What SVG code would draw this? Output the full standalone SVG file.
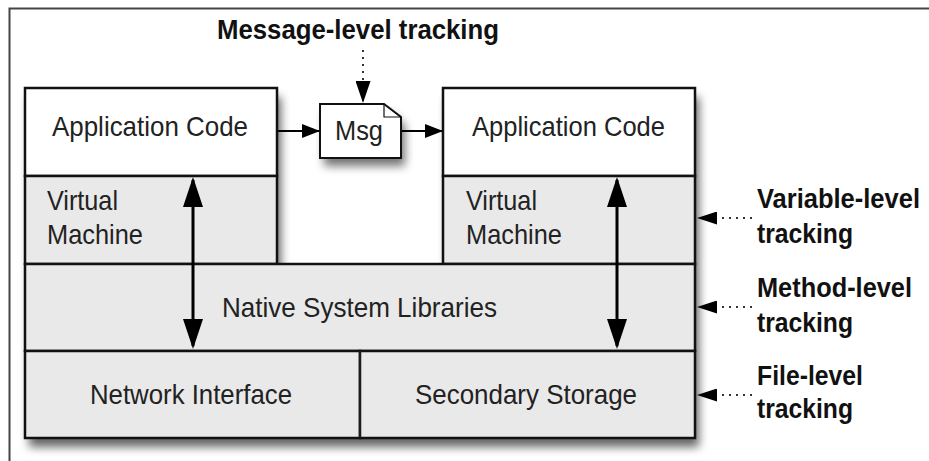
<svg xmlns="http://www.w3.org/2000/svg" width="929" height="461" viewBox="0 0 929 461">
<style>
.box{stroke:#111;stroke-width:2.5}
.white{fill:#fff}
.gray{fill:#e9e9e9}
.lbl{font-family:"Liberation Sans",Arial,sans-serif;font-size:28.5px;fill:#222}
.blbl{font-family:"Liberation Sans",Arial,sans-serif;font-size:27px;font-weight:bold;fill:#111}
.solid{stroke:#000;stroke-width:3;fill:none}
.thin{stroke:#000;stroke-width:2;fill:none}
.dot{stroke:#333;stroke-width:2;stroke-dasharray:2 5;fill:none}
</style>
<defs>
<filter id="shadow" x="-10%" y="-10%" width="130%" height="140%">
<feGaussianBlur stdDeviation="5"/>
</filter>
<marker id="big" markerUnits="userSpaceOnUse" markerWidth="30" markerHeight="20" viewBox="0 0 30 20" refX="27" refY="10" orient="auto-start-reverse">
<path d="M0,0 L30,10 L0,20 Z" fill="#000"/>
</marker>
<marker id="mid" markerUnits="userSpaceOnUse" markerWidth="18" markerHeight="14" viewBox="0 0 18 14" refX="17" refY="7" orient="auto">
<path d="M0,0 L18,7 L0,14 Z" fill="#000"/>
</marker>
<marker id="small" markerUnits="userSpaceOnUse" markerWidth="20" markerHeight="13" viewBox="0 0 20 13" refX="19" refY="6.5" orient="auto">
<path d="M0,0 L20,6.5 L0,13 Z" fill="#000"/>
</marker>
<marker id="down" markerUnits="userSpaceOnUse" markerWidth="22" markerHeight="15" viewBox="0 0 22 15" refX="21" refY="7.5" orient="auto">
<path d="M0,0 L22,7.5 L0,15 Z" fill="#000"/>
</marker>
</defs>
<rect x="0" y="0" width="929" height="461" fill="#fff"/>
<path d="M9.5,461 V8.5 H929" fill="none" stroke="#444" stroke-width="2"/>

<!-- shadows -->
<path d="M25,88 H277 V264 H443 V88 H695 V438 H25 Z" transform="translate(4,9)" fill="#000" opacity="0.6" filter="url(#shadow)"/>
<path d="M320,104 H384 L401,117 V158 H320 Z" transform="translate(4,8)" fill="#000" opacity="0.55" filter="url(#shadow)"/>

<g id="left-app">
<rect class="box white" x="25" y="88" width="252" height="88"/>
<text class="lbl" x="52" y="136" textLength="196" lengthAdjust="spacingAndGlyphs">Application Code</text>
</g>
<g id="left-vm">
<rect class="box gray" x="25" y="176" width="252" height="88"/>
<text class="lbl" x="47" y="210" textLength="71" lengthAdjust="spacingAndGlyphs">Virtual</text>
<text class="lbl" x="47" y="244" textLength="96" lengthAdjust="spacingAndGlyphs">Machine</text>
</g>
<g id="right-app">
<rect class="box white" x="443" y="88" width="252" height="88"/>
<text class="lbl" x="472" y="136" textLength="193" lengthAdjust="spacingAndGlyphs">Application Code</text>
</g>
<g id="right-vm">
<rect class="box gray" x="443" y="176" width="252" height="88"/>
<text class="lbl" x="466" y="210" textLength="71" lengthAdjust="spacingAndGlyphs">Virtual</text>
<text class="lbl" x="466" y="244" textLength="96" lengthAdjust="spacingAndGlyphs">Machine</text>
</g>
<g id="native">
<rect class="box gray" x="25" y="264" width="670" height="87"/>
<text class="lbl" x="222" y="317" textLength="275" lengthAdjust="spacingAndGlyphs">Native System Libraries</text>
</g>
<g id="network">
<rect class="box gray" x="25" y="351" width="335" height="87"/>
<text class="lbl" x="90" y="404" textLength="202" lengthAdjust="spacingAndGlyphs">Network Interface</text>
</g>
<g id="storage">
<rect class="box gray" x="360" y="351" width="335" height="87"/>
<line x1="360" y1="351" x2="360" y2="438" stroke="#222" stroke-width="1.5"/>
<text class="lbl" x="415" y="404" textLength="222" lengthAdjust="spacingAndGlyphs">Secondary Storage</text>
</g>
<g id="msg">
<path d="M320,104 H384 L401,117 V158 H320 Z" fill="#fff" stroke="#111" stroke-width="2"/>
<path d="M384,104 V117 H401" fill="none" stroke="#111" stroke-width="1.2"/>
<text class="lbl" x="335" y="140" textLength="48" lengthAdjust="spacingAndGlyphs">Msg</text>
</g>
<g id="label-message">
<text class="blbl" x="217" y="39" textLength="282" lengthAdjust="spacingAndGlyphs">Message-level tracking</text>
</g>
<g id="label-variable">
<text class="blbl" x="757" y="208" textLength="163" lengthAdjust="spacingAndGlyphs">Variable-level</text>
<text class="blbl" x="757" y="243" textLength="96" lengthAdjust="spacingAndGlyphs">tracking</text>
</g>
<g id="label-method">
<text class="blbl" x="757" y="297" textLength="155" lengthAdjust="spacingAndGlyphs">Method-level</text>
<text class="blbl" x="757" y="332" textLength="96" lengthAdjust="spacingAndGlyphs">tracking</text>
</g>
<g id="label-file">
<text class="blbl" x="757" y="385" textLength="106" lengthAdjust="spacingAndGlyphs">File-level</text>
<text class="blbl" x="757" y="418" textLength="96" lengthAdjust="spacingAndGlyphs">tracking</text>
</g>

<g id="connectors">
<line class="solid" x1="193" y1="180" x2="193" y2="346" marker-start="url(#big)" marker-end="url(#big)"/>
<line class="solid" x1="617" y1="180" x2="617" y2="346" marker-start="url(#big)" marker-end="url(#big)"/>
<line class="thin" x1="278" y1="131" x2="319" y2="131" marker-end="url(#mid)"/>
<line class="thin" x1="402" y1="131" x2="442" y2="131" marker-end="url(#mid)"/>
<line class="dot" x1="363" y1="50" x2="363" y2="102" marker-end="url(#down)"/>
<line class="dot" x1="752" y1="218" x2="698" y2="218" marker-end="url(#small)"/>
<line class="dot" x1="752" y1="307" x2="698" y2="307" marker-end="url(#small)"/>
<line class="dot" x1="752" y1="395" x2="698" y2="395" marker-end="url(#small)"/>
</g>
</svg>
